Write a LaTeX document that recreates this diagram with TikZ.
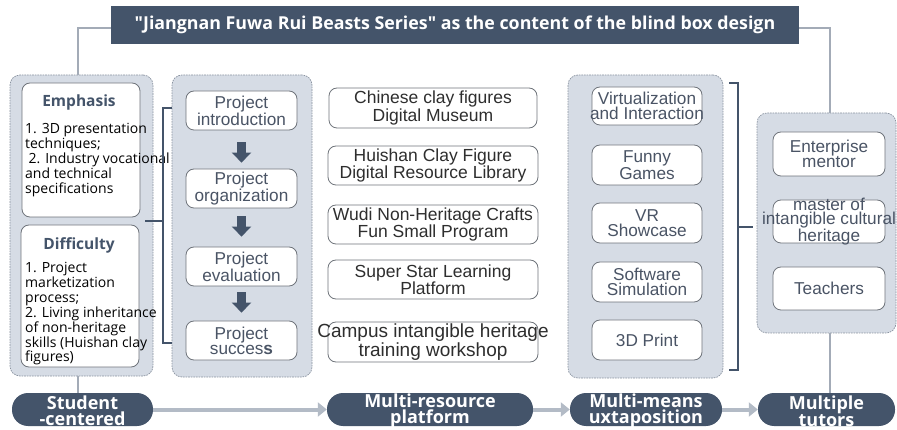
\documentclass[tikz,border=0pt]{standalone}
\usepackage{fontspec}
\setmainfont{Liberation Sans}
\newfontfamily\uifont{Open Sans}
\usetikzlibrary{arrows.meta}

\definecolor{slate}{HTML}{44546A}
\definecolor{panelfill}{HTML}{D6DCE5}
\definecolor{panelline}{HTML}{8A93A0}
\definecolor{boxline}{HTML}{6F747B}
\definecolor{boxtext}{HTML}{4A5465}
\definecolor{darktext}{HTML}{2E2E2E}
\definecolor{flowgrey}{HTML}{B3BBC6}
\definecolor{linkgrey}{HTML}{A3ABB7}

\tikzset{
  panel/.style={draw=panelline, dash pattern=on 1.6pt off 1pt, fill=panelfill,
    rounded corners=10pt, line width=0.7pt, inner sep=0pt},
  wbox/.style={draw=boxline, fill=white, rounded corners=8pt, line width=0.8pt, inner sep=0pt},
  boxtxt/.style={text=boxtext, font=\fontsize{17.2}{15}\selectfont, align=center, inner sep=0pt},
  boxtxtdark/.style={boxtxt, text=darktext, font=\fontsize{17.5}{16}\selectfont},
  headtxt/.style={text=slate, font=\uifont\bfseries\fontsize{15.5}{18}\selectfont, inner sep=0pt, anchor=base},
  % multi-line body text: anchored at the baseline of its last line
  bodytxt/.style={text=black, font=\uifont\fontsize{14}{15.2}\selectfont, align=left, inner sep=0pt, anchor=base west},
  pill/.style={fill=slate, rounded corners=16pt, inner sep=0pt, minimum height=33pt},
  pilltxt/.style={text=white, inner sep=0pt, font=\uifont\bfseries\fontsize{18}{16}\selectfont, align=center},
  flow/.style={draw=flowgrey, line width=4pt, -{Triangle[length=9pt,width=14pt]}},
  link/.style={draw=linkgrey, line width=2.2pt},
  bracket/.style={draw=slate, line width=2pt},
  downarrow/.style={draw=slate, line width=8.5pt, -{Triangle[length=10pt,width=19pt]}},
}

\begin{document}
\begin{tikzpicture}[x=1pt, y=-1pt]
\useasboundingbox (0,0) rectangle (897,430);

% title banner
\node[fill=slate, minimum width=688pt, minimum height=38pt, inner sep=0pt, text=white,
      font=\uifont\bfseries\fontsize{17.8}{18}\selectfont] (title) at (455,25)
  {"Jiangnan Fuwa Rui Beasts Series" as the content of the blind box design};

% panels
\node[panel, minimum width=143pt, minimum height=301pt] (p1) at (81.5,225.5) {};
\node[panel, minimum width=140pt, minimum height=302pt] (p2) at (242,226) {};
\node[panel, minimum width=155pt, minimum height=303pt] (p4) at (645.5,226.5) {};
\node[panel, minimum width=139pt, minimum height=220pt] (p5) at (826.5,223) {};

% links from the banner down to the side panels
\draw[link] ([yshift=-3pt]title.west) -| ([xshift=-3.5pt]p1.north);
\draw[link] ([yshift=-3pt]title.east) -| ([xshift=3.5pt]p5.north);

% student panel
\node[wbox, minimum width=118pt, minimum height=134pt] (e1) at (81,150) {};
\node[wbox, minimum width=118pt, minimum height=142pt] (d1) at (80,296) {};
\node[headtxt] (e1h) at (79,107) {Emphasis};
\node[bodytxt] (e1b) at (25,194) {1. 3D presentation\\techniques;\\\hspace*{3.5pt}2. Industry vocational\\and technical\\specifications};
\node[headtxt] (d1h) at (79,250) {Difficulty};
\node[bodytxt, font=\uifont\fontsize{14}{14.9}\selectfont] (d1b) at (25,362) {1. Project\\marketization\\process;\\2. Living inheritance\\of non-heritage\\skills (Huishan clay\\figures)};

% project stages
\node[wbox, minimum width=111pt, minimum height=39pt] (b1) at (241.5,110.5) {};
\node[wbox, minimum width=111pt, minimum height=39pt] (b2) at (241.5,188.5) {};
\node[wbox, minimum width=111pt, minimum height=39pt] (b3) at (241.5,266.5) {};
\node[wbox, minimum width=111pt, minimum height=39pt] (b4) at (241.5,340.5) {};
\node[boxtxt] at (b1) {Project\\introduction};
\node[boxtxt] at (b2) {Project\\organization};
\node[boxtxt] at (b3) {Project\\evaluation};
\node[boxtxt] at (b4) {Project\\succes\textbf{s}};
\draw[downarrow] ([yshift=-12pt]b1.south) -- ([yshift=6pt]b2.north);
\draw[downarrow] ([yshift=-8pt]b2.south) -- ([yshift=10pt]b3.north);
\draw[downarrow] ([yshift=-6pt]b3.south) -- ([yshift=8pt]b4.north);

% bracket joining the student panel to the stages
\coordinate (lbT) at (172,108);
\coordinate (lbB) at (172,343);
\coordinate (lbM) at (145,221);
\draw[bracket] (lbT) -- (163,108) -- (163,343) -- (lbB);
\draw[bracket] (lbM) -- (163,221);

% resource platforms
\node[wbox, minimum width=208pt, minimum height=40pt] (r1) at (433,108) {};
\node[wbox, minimum width=210pt, minimum height=39pt] (r2) at (433,165.5) {};
\node[wbox, minimum width=210pt, minimum height=39pt] (r3) at (433,224.5) {};
\node[wbox, minimum width=210pt, minimum height=39pt] (r4) at (433,279.5) {};
\node[wbox, minimum width=210pt, minimum height=40pt] (r5) at (433,342) {};
\node[boxtxtdark] at (r1) {Chinese clay figures\\Digital Museum};
\node[boxtxtdark] at (r2) {Huishan Clay Figure\\Digital Resource Library};
\node[boxtxtdark] at (r3) {Wudi Non-Heritage Crafts\\Fun Small Program};
\node[boxtxtdark] at (r4) {Super Star Learning\\Platform};
\node[boxtxtdark, font=\fontsize{19}{16}\selectfont] at (r5) {Campus intangible heritage\\training workshop};

% means
\node[wbox, minimum width=110pt, minimum height=38pt] (m1) at (647,106) {};
\node[wbox, minimum width=110pt, minimum height=40pt] (m2) at (647,165) {};
\node[wbox, minimum width=110pt, minimum height=40pt] (m3) at (647,223) {};
\node[wbox, minimum width=110pt, minimum height=40pt] (m4) at (647,282) {};
\node[wbox, minimum width=110pt, minimum height=40pt] (m5) at (647,340) {};
\node[boxtxt] at (m1) {Virtualization\\and Interaction};
\node[boxtxt] at (m2) {Funny\\Games};
\node[boxtxt] at (m3) {VR\\Showcase};
\node[boxtxt] at (m4) {Software\\Simulation};
\node[boxtxt] at (m5) {3D Print};

% bracket joining the means to the tutors
\coordinate (rbT) at (729,83);
\coordinate (rbB) at (729,370);
\coordinate (rbM) at (753,227);
\draw[bracket] (rbT) -- (738,83) -- (738,370) -- (rbB);
\draw[bracket] (738,227) -- (rbM);

% tutors
\node[wbox, minimum width=112pt, minimum height=44pt] (t1) at (829,154) {};
\node[wbox, minimum width=112pt, minimum height=43pt] (t2) at (829,221.5) {};
\node[wbox, minimum width=112pt, minimum height=43pt] (t3) at (829,288.5) {};
\node[boxtxt] at (t1) {Enterprise\\mentor};
\node[boxtxt, font=\fontsize{17.2}{14}\selectfont] at (t2) {master of\\intangible cultural\\heritage};
\node[boxtxt] at (t3) {Teachers};

% bottom flow
\node[pill, minimum width=141pt] (s1) at (82.5,409.5) {};
\node[pill, minimum width=206pt] (s2) at (430,409.5) {};
\node[pill, minimum width=152pt] (s3) at (646,409.5) {};
\node[pill, minimum width=137pt] (s4) at (826.5,409.5) {};
\node[pilltxt] at ([yshift=-1.5pt]s1.center) {Student\\-centered};
\node[pilltxt] at ([yshift=-1.5pt]s2.center) {Multi-resource\\platform};
\node[pilltxt] at ([yshift=-1.5pt]s3.center) {Multi-means\\uxtaposition};
\node[pilltxt] at ([yshift=-1.5pt]s4.center) {Multiple\\tutors};
\draw[link] ([xshift=-3.5pt]p1.south) -- ([xshift=-3.5pt]p1.south |- s1.north);
\draw[link] ([xshift=3.5pt]p5.south) -- ([xshift=3.5pt]p5.south |- s4.north);
\draw[flow] (s1) -- (s2);
\draw[flow] (s2) -- (s3);
\draw[flow] (s3) -- (s4);
\end{tikzpicture}
\end{document}
